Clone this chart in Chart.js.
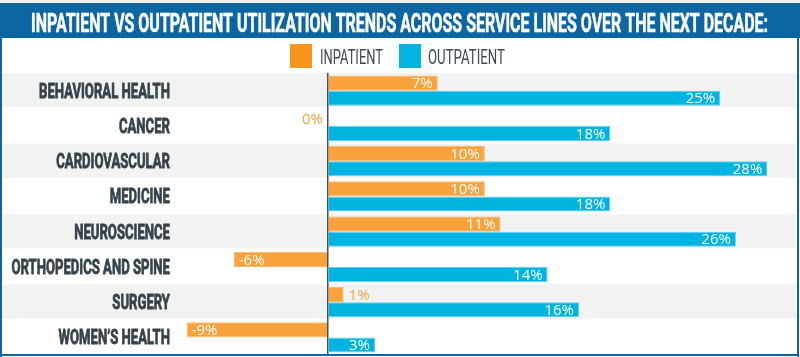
<!DOCTYPE html>
<html>
<head>
<meta charset="utf-8">
<script src="https://cdn.jsdelivr.net/npm/chart.js@4/dist/chart.umd.min.js"></script>
<style>
  html, body { margin: 0; padding: 0; background: #ffffff; }
  #wrap { width: 800px; height: 357px; }
</style>
</head>
<body>
<div id="wrap"><canvas id="c" width="800" height="357"></canvas></div>
<script>
const chartTitle = "INPATIENT VS OUTPATIENT UTILIZATION TRENDS ACROSS SERVICE LINES OVER THE NEXT DECADE:";
const categories = ["BEHAVIORAL HEALTH", "CANCER", "CARDIOVASCULAR", "MEDICINE", "NEUROSCIENCE", "ORTHOPEDICS AND SPINE", "SURGERY", "WOMEN\u2019S HEALTH"];
const seriesNames = ["INPATIENT", "OUTPATIENT"];
const inpatient = [7, 0, 10, 10, 11, -6, 1, -9];
const outpatient = [25, 18, 28, 18, 26, 14, 16, 3];

const ORANGE = '#f9a23b';
const ORANGE_LEG = '#f7941e';
const BLUE = '#00b4e1';
const FRAME = '#0d65a1';
const TEXT_DARK = '#37434b';

const decorPlugin = {
  id: 'decor',
  beforeDraw(chart) {
    const ctx = chart.ctx;
    const y = chart.scales.y;
    const W = chart.width;
    ctx.save();
    ctx.fillStyle = '#ffffff';
    ctx.fillRect(0, 0, W, chart.height);
    ctx.fillStyle = '#e9eef2';
    ctx.fillRect(0, 0, W, 3);
    ctx.fillStyle = FRAME;
    ctx.fillRect(0, 3, W, 35);
    const step = (y.bottom - y.top) / categories.length;
    for (let i = 0; i < categories.length; i++) {
      if (i % 2 === 0) {
        const cy = y.getPixelForValue(i);
        ctx.fillStyle = '#f1f2f2';
        ctx.fillRect(2, cy - step / 2, 795, step - 1);
      }
    }
    ctx.restore();
  },
  afterDatasetsDraw(chart) {
    const ctx = chart.ctx;
    ctx.save();
    ctx.font = '15px "Open Sans"';
    ctx.textBaseline = 'middle';
    chart.data.datasets.forEach((ds, di) => {
      const meta = chart.getDatasetMeta(di);
      meta.data.forEach((bar, i) => {
        const v = ds.data[i];
        const txt = v + '%';
        const tw = ctx.measureText(txt).width;
        const len = Math.abs(bar.x - bar.base);
        const ty = bar.y + 1;
        if (len > tw + 10) {
          ctx.fillStyle = '#ffffff';
          if (v >= 0) { ctx.textAlign = 'right'; ctx.fillText(txt, bar.x - 5, ty); }
          else { ctx.textAlign = 'left'; ctx.fillText(txt, bar.x + 5, ty); }
        } else {
          ctx.fillStyle = ORANGE;
          if (v > 0) { ctx.textAlign = 'left'; ctx.fillText(txt, bar.x + 5, ty); }
          else { ctx.textAlign = 'right'; ctx.fillText(txt, bar.x - 5, ty); }
        }
      });
    });
    ctx.restore();
  },
  afterDraw(chart) {
    const ctx = chart.ctx;
    const y = chart.scales.y;
    ctx.save();
    function condText(txt, x, base, font, color, targetW, align, strokeW) {
      ctx.font = font;
      const w = ctx.measureText(txt).width;
      const sx = targetW / w;
      ctx.fillStyle = color;
      ctx.textAlign = 'left';
      ctx.textBaseline = 'alphabetic';
      let left = x;
      if (align === 'right') left = x - targetW;
      if (align === 'center') left = x - targetW / 2;
      ctx.save();
      ctx.translate(left, base);
      ctx.scale(sx, 1);
      ctx.fillText(txt, 0, 0);
      if (strokeW) {
        ctx.strokeStyle = color;
        ctx.lineWidth = strokeW;
        ctx.lineJoin = 'round';
        ctx.strokeText(txt, 0, 0);
      }
      ctx.restore();
      return sx;
    }
    condText(chartTitle, 399.5, 32, 'bold 25px Roboto', '#ffffff', 737, 'center', 0.6);
    ctx.font = 'bold 20px Roboto';
    const ref = ctx.measureText(categories[0]).width;
    const sx = 131 / ref;
    categories.forEach((c, i) => {
      const cy = y.getPixelForValue(i);
      ctx.font = 'bold 20px Roboto';
      const w = ctx.measureText(c).width * sx;
      condText(c, 170, cy + 7, 'bold 20px Roboto', TEXT_DARK, w, 'right', 0.8);
    });
    ctx.fillStyle = ORANGE_LEG;
    ctx.fillRect(290, 44, 22, 24);
    ctx.fillStyle = BLUE;
    ctx.fillRect(399, 44, 22, 24);
    condText(seriesNames[0], 320, 64, '20px Roboto', '#3d4a52', 63, 'left');
    condText(seriesNames[1], 428, 64, '20px Roboto', '#3d4a52', 77, 'left');
    ctx.fillStyle = FRAME;
    ctx.fillRect(0, 3, 2, 354);
    ctx.fillRect(797, 3, 2, 354);
    ctx.fillRect(0, 354, 799, 2);
    ctx.restore();
  }
};

new Chart(document.getElementById('c'), {
  type: 'bar',
  data: {
    labels: categories,
    datasets: [
      { label: seriesNames[0], data: inpatient, backgroundColor: ORANGE, borderColor: '#fbb866', borderWidth: 1, categoryPercentage: 0.86, barPercentage: 1.0 },
      { label: seriesNames[1], data: outpatient, backgroundColor: BLUE, borderColor: '#62cdee', borderWidth: 1, categoryPercentage: 0.86, barPercentage: 1.0 }
    ]
  },
  options: {
    indexAxis: 'y',
    responsive: false,
    animation: false,
    devicePixelRatio: 1,
    layout: { padding: { left: 171, right: 17, top: 73, bottom: 2 } },
    plugins: { legend: { display: false }, title: { display: false }, tooltip: { enabled: false } },
    scales: {
      x: {
        min: -10, max: 29,
        ticks: { display: false, stepSize: 1 },
        border: { display: false },
        grid: {
          drawTicks: false,
          lineWidth: 1.5,
          color: (c) => (c.tick && c.tick.value === 0) ? '#4b4f52' : 'rgba(0,0,0,0)'
        },
        afterFit: (s) => { s.height = 0; }
      },
      y: { display: false }
    }
  },
  plugins: [decorPlugin]
});
</script>
</body>
</html>
